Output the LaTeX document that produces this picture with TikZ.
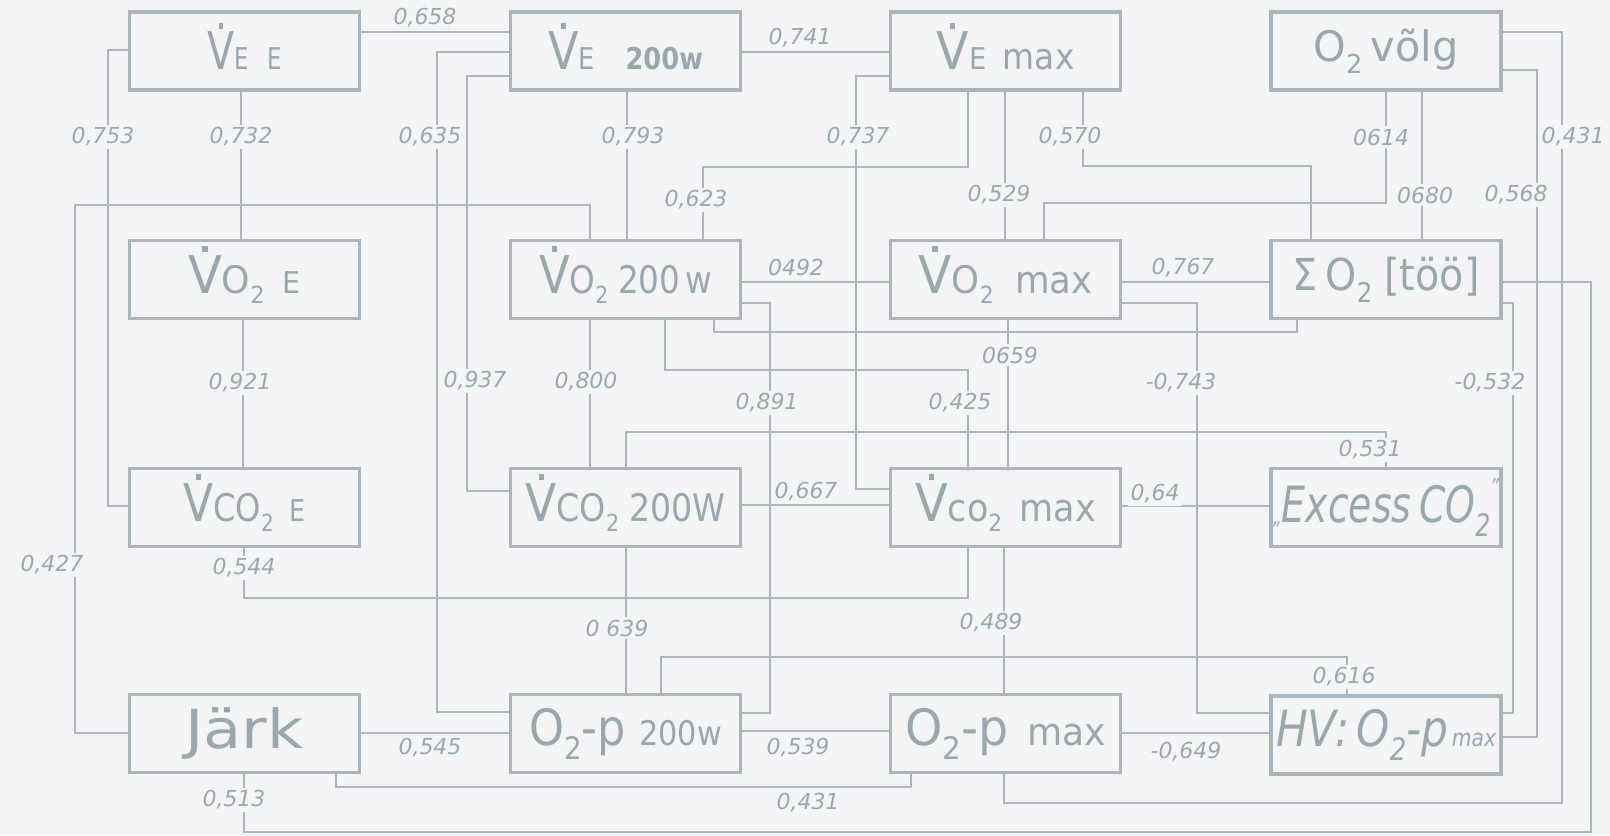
\documentclass[tikz,border=0pt]{standalone}
\usepackage{fontspec}
\setmainfont{DejaVu Sans}
\usepackage{graphicx}
\definecolor{paper}{HTML}{F3F5F5}
\definecolor{ink}{HTML}{9AA8AE}
\definecolor{wire}{HTML}{AAB6BB}
\newcommand\fs[1]{\fontsize{#1}{#1}\selectfont}
% V with a dot above (flow rate); the dot is a small rule kept out of the text box
\newcommand\Vd{\leavevmode\hbox{\ooalign{V\cr\hidewidth\smash{\raisebox{0.79em}{\rule{0.11em}{0.11em}}}\hidewidth\cr}}}
\newcommand\sub[1]{\raisebox{-0.28em}{\scalebox{0.62}{#1}}}
\newcommand\fitw[2]{\resizebox{#1}{\height}{#2}}
\begin{document}
\begin{tikzpicture}[x=0.5pt,y=-0.5pt,
  box/.style={draw=wire,line width=1.7pt,minimum width=115pt,minimum height=39pt,inner sep=0pt,text=ink},
  link/.style={draw=wire,line width=0.85pt},
  val/.style={font=\fs{11}\itshape,text=ink,fill=paper,inner sep=1.2pt}]
\fill[paper] (0,0) rectangle (1610,835);
\useasboundingbox (0,0) rectangle (1610,835);

% boxes
\node[box] (vee)  at (244.5,51)  {\fitw{37pt}{\fs{26}\Vd\fs{15}E\hspace{0.8em}E}\hspace{12pt}};
\node[box] (ve2)  at (625.5,51)  {\fitw{77.5pt}{\fs{26}\Vd\fs{15}E\hspace{1.2em}\bfseries 200w}};
\node[box] (vem)  at (1005.5,51) {\fitw{69pt}{\fs{26}\Vd\fs{15}E\hspace{0.6em}\fs{18}max}};
\node[box] (o2v)  at (1386,51)   {\fitw{72.5pt}{\fs{21}O\sub{2}\hspace{0.2em}võlg}};

\node[box] (vo2e) at (244.5,279.5)  {\fitw{56.5pt}{\fs{26}\Vd\fs{19}O\sub{2}\hspace{0.5em}\fs{15}E}};
\node[box] (vo22) at (625.5,279.5)  {\fitw{86.5pt}{\fs{26}\Vd\fs{19}O\sub{2}\hspace{0.3em}200\hspace{0.15em}w}};
\node[box] (vo2m) at (1005.5,279.5) {\fitw{87pt}{\fs{26}\Vd\fs{19}O\sub{2}\hspace{0.6em}max}};
\node[box] (so2)  at (1386,279.5)   {\fitw{93.5pt}{\fs{22}Σ\hspace{0.2em}O\sub{2}\hspace{0.3em}[töö]}};

\node[box] (vce)  at (244.5,507.5)  {\fitw{61.5pt}{\fs{26}\Vd\fs{19}CO\sub{2}\hspace{0.5em}\fs{15}E}};
\node[box] (vc2)  at (625.5,507.5)  {\fitw{100pt}{\fs{26}\Vd\fs{19}CO\sub{2}\hspace{0.3em}200W}};
\node[box] (vcm)  at (1005.5,507.5) {\fitw{90.5pt}{\fs{26}\Vd\fs{19}co\sub{2}\hspace{0.5em}max}};
\node[box] (exc)  at (1386,507.5)   {\fitw{113pt}{\fs{25}\itshape\raisebox{-0.05em}{\fs{11}„}Excess\hspace{0.2em}CO\sub{2}\raisebox{0.55em}{\fs{11}”}}};

\node[box] (jrk)  at (244.5,733.5)  {\fitw{59pt}{\fs{27}Järk}};
\node[box] (op2)  at (625.5,733.5)  {\fitw{96.5pt}{\fs{25}O\sub{2}-p\hspace{0.3em}\fs{17}200w}};
\node[box] (opm)  at (1005.5,733.5) {\fitw{100.5pt}{\fs{25}O\sub{2}-p\hspace{0.4em}\fs{19}max}};
\node[box] (hv)   at (1386,735)     {\fitw{110pt}{\fs{25}\itshape HV:\,O\sub{2}-p\fs{12}\,max}};

% connectors
\draw[link] (vee.east |- 0,32) -- (ve2.west |- 0,32);
\draw[link] (ve2.west |- 0,52) -- (437,52) -- (437,712) -- (op2.west |- 0,712);
\draw[link] (ve2.west |- 0,76) -- (467,76) -- (467,491) -- (vc2.west |- 0,491);
\draw[link] (vee.west |- 0,50) -- (108,50) -- (108,506) -- (vce.west |- 0,506);
\draw[link] (vee.south -| 241,0) -- (vo2e.north -| 241,0);
\draw[link] (jrk.west |- 0,733) -- (75,733) -- (75,205) -- (590,205) -- (vo22.north -| 590,0);
\draw[link] (ve2.east |- 0,52) -- (vem.west |- 0,52);
\draw[link] (ve2.south -| 627,0) -- (vo22.north -| 627,0);
\draw[link] (vem.west |- 0,76) -- (856,76) -- (856,489) -- (vcm.west |- 0,489);
\draw[link] (vem.south -| 968,0) -- (968,167) -- (703,167) -- (vo22.north -| 703,0);
\draw[link] (vem.south -| 1005,0) -- (vo2m.north -| 1005,0);
\draw[link] (vem.south -| 1083,0) -- (1083,166) -- (1311,166) -- (so2.north -| 1311,0);
\draw[link] (o2v.south -| 1386,0) -- (1386,203) -- (1044,203) -- (vo2m.north -| 1044,0);
\draw[link] (o2v.south -| 1422,0) -- (so2.north -| 1422,0);
\draw[link] (o2v.east |- 0,70) -- (1537,70) -- (1537,737) -- (hv.east |- 0,737);
\draw[link] (o2v.east |- 0,32) -- (1562,32) -- (1562,803) -- (1004,803) -- (opm.south -| 1004,0);
\draw[link] (vo22.east |- 0,282) -- (vo2m.west |- 0,282);
\draw[link] (vo2m.east |- 0,282) -- (so2.west |- 0,282);
\draw[link] (vo2e.south -| 243,0) -- (vce.north -| 243,0);
\draw[link] (vo22.east |- 0,303) -- (770,303) -- (770,713) -- (op2.east |- 0,713);
\draw[link] (vo22.south -| 714,0) -- (714,332) -- (1297,332) -- (so2.south -| 1297,0);
\draw[link] (vo22.south -| 665,0) -- (665,370) -- (968,370) -- (vcm.north -| 968,0);
\draw[link] (vo22.south -| 590,0) -- (vc2.north -| 590,0);
\draw[link] (vo2m.east |- 0,303) -- (1197,303) -- (1197,713) -- (hv.west |- 0,713);
\draw[link] (vo2m.south -| 1008,0) -- (vcm.north -| 1008,0);
\draw[link] (so2.east |- 0,282) -- (1591,282) -- (1591,832) -- (244,832) -- (jrk.south -| 244,0);
\draw[link] (so2.east |- 0,303) -- (1513,303) -- (1513,713) -- (hv.east |- 0,713);
\draw[link] (vce.south -| 244,0) -- (244,598) -- (968,598) -- (vcm.south -| 968,0);
\draw[link] (vc2.north -| 626,0) -- (626,432) -- (1386,432) -- (exc.north -| 1386,0);
\draw[link] (vc2.east |- 0,505) -- (vcm.west |- 0,505);
\draw[link] (vcm.east |- 0,506) -- (exc.west |- 0,506);
\draw[link] (vc2.south -| 626,0) -- (op2.north -| 626,0);
\draw[link] (vcm.south -| 1004,0) -- (opm.north -| 1004,0);
\draw[link] (op2.north -| 661,0) -- (661,657) -- (1347,657) -- (hv.north -| 1347,0);
\draw[link] (jrk.east |- 0,733) -- (op2.west |- 0,733);
\draw[link] (op2.east |- 0,731) -- (opm.west |- 0,731);
\draw[link] (jrk.south -| 336,0) -- (336,787) -- (911,787) -- (opm.south -| 911,0);
\draw[link] (opm.east |- 0,733) -- (hv.west |- 0,733);

% correlation values
\node[val] (r01) at (425,18)   {0,658};
\node[val] (r02) at (800,38)   {0,741};
\node[val] (r03) at (103,137)  {0,753};
\node[val] (r04) at (241,137)  {0,732};
\node[val] (r05) at (430,137)  {0,635};
\node[val] (r06) at (633,137)  {0,793};
\node[val] (r07) at (858,137)  {0,737};
\node[val] (r08) at (1070,137) {0,570};
\node[val] (r09) at (1381,137) {0614};
\node[val] (r10) at (1573,137) {0,431};
\node[val] (r11) at (696,200)  {0,623};
\node[val] (r12) at (999,195)  {0,529};
\node[val] (r13) at (1425,195) {0680};
\node[val] (r14) at (1516,195) {0,568};
\node[val] (r15) at (796,267)  {0492};
\node[val] (r16) at (1183,268) {0,767};
\node[val] (r17) at (1010,355) {0659};
\node[val] (r18) at (240,383)  {0,921};
\node[val] (r19) at (475,381)  {0,937};
\node[val] (r20) at (586,382)  {0,800};
\node[val] (r21) at (767,403)  {0,891};
\node[val] (r22) at (960,403)  {0,425};
\node[val] (r23) at (1181,383) {-0,743};
\node[val] (r24) at (1490,383) {-0,532};
\node[val] (r25) at (1370,450) {0,531};
\node[val] (r26) at (806,492)  {0,667};
\node[val] (r27) at (1155,494) {0,64};
\node[val] (r28) at (52,565)   {0,427};
\node[val] (r29) at (244,568)  {0,544};
\node[val] (r30) at (617,628)  {0 639};
\node[val] (r31) at (991,623)  {0,489};
\node[val] (r32) at (1344,677) {0,616};
\node[val] (r33) at (430,748)  {0,545};
\node[val] (r34) at (798,748)  {0,539};
\node[val] (r35) at (1186,752) {-0,649};
\node[val] (r36) at (808,803)  {0,431};
\node[val] (r37) at (234,800)  {0,513};
\end{tikzpicture}
\end{document}
